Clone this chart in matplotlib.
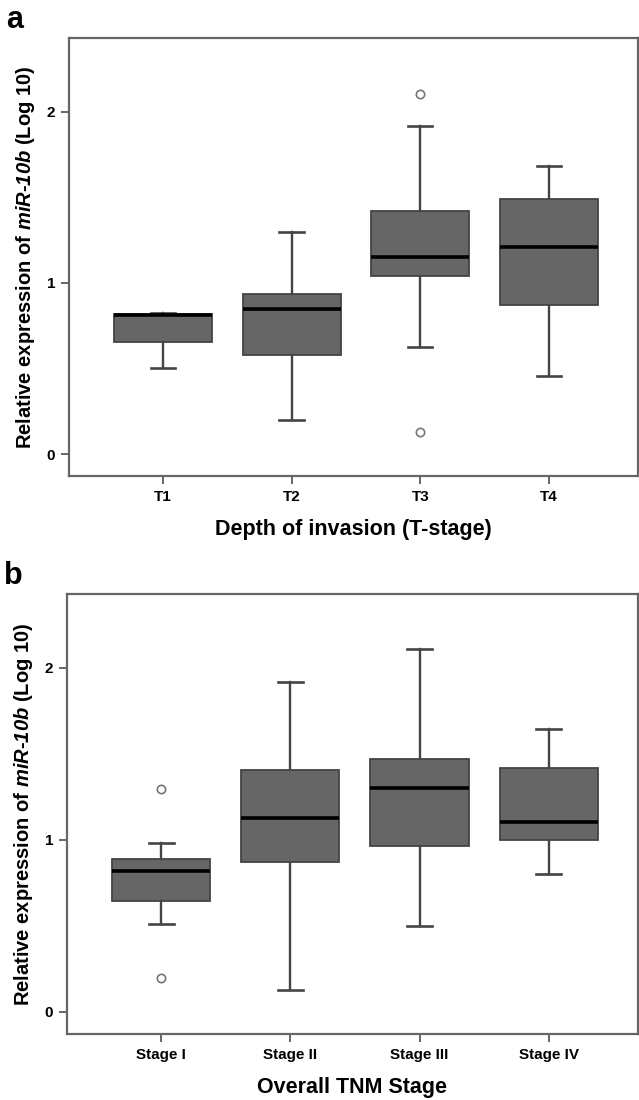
"""Boxplots of miR-10b expression by T-stage (a) and overall TNM stage (b)."""

import matplotlib
matplotlib.use("Agg")
import matplotlib.pyplot as plt

plt.rcParams["font.family"] = ["Liberation Sans", "DejaVu Sans"]
plt.rcParams["font.weight"] = "bold"
plt.rcParams["mathtext.fontset"] = "custom"
plt.rcParams["mathtext.bfit"] = "Liberation Sans:italic:bold"

# panel a: depth of invasion
a_labels = ["T1", "T2", "T3", "T4"]
a_whislo = [0.50, 0.20, 0.625, 0.455]
a_q1 = [0.655, 0.58, 1.04, 0.87]
a_med = [0.81, 0.85, 1.15, 1.21]
a_q3 = [0.818, 0.935, 1.42, 1.49]
a_whishi = [0.826, 1.295, 1.915, 1.68]
a_fliers = [[], [], [2.105, 0.13], []]

# panel b: overall TNM stage
b_labels = ["Stage I", "Stage II", "Stage III", "Stage IV"]
b_whislo = [0.51, 0.13, 0.50, 0.80]
b_q1 = [0.645, 0.87, 0.965, 1.00]
b_med = [0.82, 1.125, 1.30, 1.105]
b_q3 = [0.89, 1.405, 1.47, 1.42]
b_whishi = [0.985, 1.92, 2.11, 1.645]
b_fliers = [[1.295, 0.20], [], [], []]

YLABEL = r"Relative expression of $\mathbfit{miR}$-$\mathbfit{10b}$ (Log 10)"
EDGE = "#444444"
SPINE = "#666666"


def stats(labels, lo, q1, med, q3, hi, fl):
    return [dict(label=l, whislo=a, q1=b, med=c, q3=d, whishi=e, fliers=f)
            for l, a, b, c, d, e, f in zip(labels, lo, q1, med, q3, hi, fl)]


def draw_panel(ax, st, xlabel, tag):
    ax.bxp(st, positions=range(1, len(st) + 1), widths=0.76, capwidths=0.19,
           patch_artist=True,
           boxprops=dict(facecolor="#666666", edgecolor=EDGE, linewidth=1.3),
           medianprops=dict(color="black", linewidth=2.6),
           whiskerprops=dict(color=EDGE, linewidth=1.7),
           capprops=dict(color=EDGE, linewidth=1.9),
           flierprops=dict(marker="o", markersize=6, markerfacecolor="white",
                           markeredgecolor="#777777", markeredgewidth=1.2))
    ax.set_xlim(0.27, 4.69)
    ax.set_ylim(-0.128, 2.43)
    ax.set_yticks([0, 1, 2])
    ax.set_yticklabels(["0", "1", "2"], fontsize=11, fontweight="bold")
    ax.set_xticklabels([s["label"] for s in st], fontsize=11, fontweight="bold")
    for sp in ax.spines.values():
        sp.set_color(SPINE)
        sp.set_linewidth(1.6)
    ax.tick_params(direction="out", length=6, width=1.4, color=SPINE, pad=4)
    ax.set_xlabel(xlabel, fontsize=15.5, fontweight="bold", labelpad=11)
    ax.set_ylabel(YLABEL, fontsize=14.5, fontweight="bold", labelpad=7)
    ax.text(-0.11, 1.04, tag, transform=ax.transAxes, fontsize=22,
            fontweight="bold", ha="left", va="center")


fig = plt.figure(figsize=(6.39, 11.0), dpi=100)
ax_a = fig.add_axes([0.108, 0.5673, 0.89, 0.3982])
ax_b = fig.add_axes([0.105, 0.06, 0.893, 0.40])

draw_panel(ax_a, stats(a_labels, a_whislo, a_q1, a_med, a_q3, a_whishi, a_fliers),
           "Depth of invasion (T-stage)", "a")
draw_panel(ax_b, stats(b_labels, b_whislo, b_q1, b_med, b_q3, b_whishi, b_fliers),
           "Overall TNM Stage", "b")

fig.savefig("out.png", dpi=100)
